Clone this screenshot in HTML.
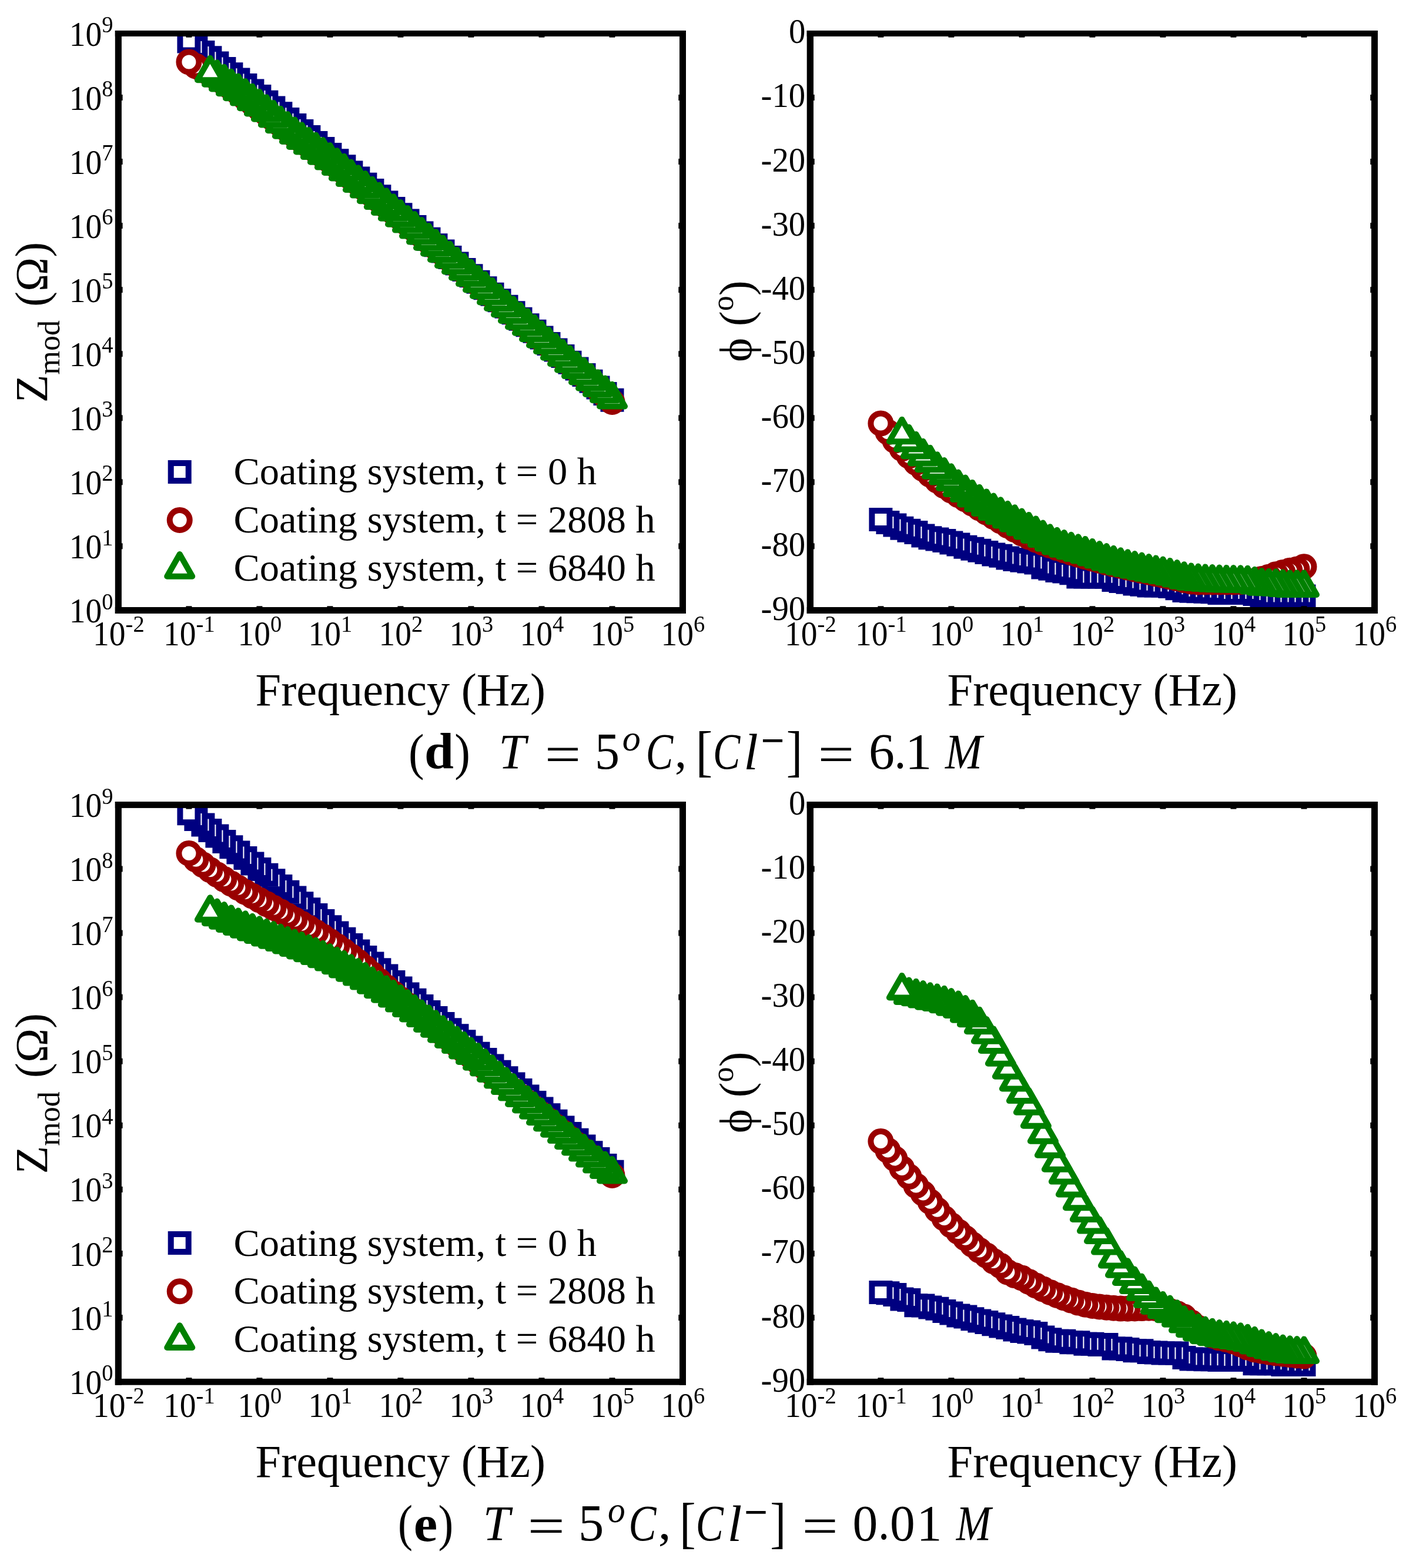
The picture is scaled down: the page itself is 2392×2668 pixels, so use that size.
<!DOCTYPE html>
<html><head><meta charset="utf-8"><title>EIS Bode plots</title><style>html,body{margin:0;padding:0;background:#fff;}svg{display:block;}</style></head><body>
<svg xmlns="http://www.w3.org/2000/svg" width="2392" height="2668" viewBox="0 0 2392 2668" font-family="'Liberation Serif','Times New Roman',serif" fill="#000">
<rect width="100%" height="100%" fill="#fff"/>
<defs>
<clipPath id="cZd"><rect x="201.4" y="57.0" width="960.1" height="981.4"/></clipPath>
<clipPath id="cPd"><rect x="1378.4" y="57.0" width="960.1" height="981.4"/></clipPath>
<clipPath id="cZe"><rect x="201.4" y="1369.4" width="960.1" height="981.8"/></clipPath>
<clipPath id="cPe"><rect x="1378.4" y="1369.4" width="960.1" height="981.8"/></clipPath>
</defs>
<g clip-path="url(#cZd)">
<g fill="#fff" stroke="#000080" stroke-width="10" stroke-linejoin="miter"><path d="M1026.5 665.7h30v30h-30z"/><path d="M1014.5 655.0h30v30h-30z"/><path d="M1002.5 644.4h30v30h-30z"/><path d="M990.5 633.7h30v30h-30z"/><path d="M978.5 623.0h30v30h-30z"/><path d="M966.5 612.4h30v30h-30z"/><path d="M954.5 601.7h30v30h-30z"/><path d="M942.5 591.1h30v30h-30z"/><path d="M930.5 580.5h30v30h-30z"/><path d="M918.5 569.9h30v30h-30z"/><path d="M906.5 559.4h30v30h-30z"/><path d="M894.5 548.8h30v30h-30z"/><path d="M882.5 538.3h30v30h-30z"/><path d="M870.5 527.7h30v30h-30z"/><path d="M858.5 517.2h30v30h-30z"/><path d="M846.5 506.7h30v30h-30z"/><path d="M834.5 496.2h30v30h-30z"/><path d="M822.5 485.7h30v30h-30z"/><path d="M810.5 475.2h30v30h-30z"/><path d="M798.5 464.8h30v30h-30z"/><path d="M786.5 454.3h30v30h-30z"/><path d="M774.5 443.9h30v30h-30z"/><path d="M762.5 433.4h30v30h-30z"/><path d="M750.5 423.0h30v30h-30z"/><path d="M738.5 412.6h30v30h-30z"/><path d="M726.5 402.2h30v30h-30z"/><path d="M714.5 391.8h30v30h-30z"/><path d="M702.5 381.4h30v30h-30z"/><path d="M690.5 371.0h30v30h-30z"/><path d="M678.5 360.6h30v30h-30z"/><path d="M666.5 350.3h30v30h-30z"/><path d="M654.4 339.9h30v30h-30z"/><path d="M642.4 329.6h30v30h-30z"/><path d="M630.4 319.3h30v30h-30z"/><path d="M618.4 309.1h30v30h-30z"/><path d="M606.4 298.8h30v30h-30z"/><path d="M594.4 288.6h30v30h-30z"/><path d="M582.4 278.5h30v30h-30z"/><path d="M570.4 268.3h30v30h-30z"/><path d="M558.4 258.2h30v30h-30z"/><path d="M546.4 248.1h30v30h-30z"/><path d="M534.4 238.0h30v30h-30z"/><path d="M522.4 228.0h30v30h-30z"/><path d="M510.4 218.0h30v30h-30z"/><path d="M498.4 208.0h30v30h-30z"/><path d="M486.4 198.0h30v30h-30z"/><path d="M474.4 188.1h30v30h-30z"/><path d="M462.4 178.3h30v30h-30z"/><path d="M450.4 168.5h30v30h-30z"/><path d="M438.4 158.8h30v30h-30z"/><path d="M426.4 149.1h30v30h-30z"/><path d="M414.4 139.5h30v30h-30z"/><path d="M402.4 130.0h30v30h-30z"/><path d="M390.4 120.6h30v30h-30z"/><path d="M378.4 111.2h30v30h-30z"/><path d="M366.4 101.9h30v30h-30z"/><path d="M354.4 92.6h30v30h-30z"/><path d="M342.4 83.3h30v30h-30z"/><path d="M330.4 74.1h30v30h-30z"/><path d="M318.4 64.9h30v30h-30z"/><path d="M306.4 55.4h30v30h-30z"/></g>
<g fill="#fff" stroke="#990000" stroke-width="10" stroke-linejoin="round"><path d="M1024.5 684.0a17 17 0 1 0 34 0a17 17 0 1 0 -34 0z"/><path d="M1012.5 672.9a17 17 0 1 0 34 0a17 17 0 1 0 -34 0z"/><path d="M1000.5 661.9a17 17 0 1 0 34 0a17 17 0 1 0 -34 0z"/><path d="M988.5 651.0a17 17 0 1 0 34 0a17 17 0 1 0 -34 0z"/><path d="M976.5 640.2a17 17 0 1 0 34 0a17 17 0 1 0 -34 0z"/><path d="M964.5 629.5a17 17 0 1 0 34 0a17 17 0 1 0 -34 0z"/><path d="M952.5 618.9a17 17 0 1 0 34 0a17 17 0 1 0 -34 0z"/><path d="M940.5 608.4a17 17 0 1 0 34 0a17 17 0 1 0 -34 0z"/><path d="M928.5 598.0a17 17 0 1 0 34 0a17 17 0 1 0 -34 0z"/><path d="M916.5 587.6a17 17 0 1 0 34 0a17 17 0 1 0 -34 0z"/><path d="M904.5 577.1a17 17 0 1 0 34 0a17 17 0 1 0 -34 0z"/><path d="M892.5 566.7a17 17 0 1 0 34 0a17 17 0 1 0 -34 0z"/><path d="M880.5 556.2a17 17 0 1 0 34 0a17 17 0 1 0 -34 0z"/><path d="M868.5 545.7a17 17 0 1 0 34 0a17 17 0 1 0 -34 0z"/><path d="M856.5 535.3a17 17 0 1 0 34 0a17 17 0 1 0 -34 0z"/><path d="M844.5 524.8a17 17 0 1 0 34 0a17 17 0 1 0 -34 0z"/><path d="M832.5 514.3a17 17 0 1 0 34 0a17 17 0 1 0 -34 0z"/><path d="M820.5 503.8a17 17 0 1 0 34 0a17 17 0 1 0 -34 0z"/><path d="M808.5 493.3a17 17 0 1 0 34 0a17 17 0 1 0 -34 0z"/><path d="M796.5 482.9a17 17 0 1 0 34 0a17 17 0 1 0 -34 0z"/><path d="M784.5 472.5a17 17 0 1 0 34 0a17 17 0 1 0 -34 0z"/><path d="M772.5 462.1a17 17 0 1 0 34 0a17 17 0 1 0 -34 0z"/><path d="M760.5 451.8a17 17 0 1 0 34 0a17 17 0 1 0 -34 0z"/><path d="M748.5 441.6a17 17 0 1 0 34 0a17 17 0 1 0 -34 0z"/><path d="M736.5 431.4a17 17 0 1 0 34 0a17 17 0 1 0 -34 0z"/><path d="M724.5 421.2a17 17 0 1 0 34 0a17 17 0 1 0 -34 0z"/><path d="M712.5 411.1a17 17 0 1 0 34 0a17 17 0 1 0 -34 0z"/><path d="M700.5 401.0a17 17 0 1 0 34 0a17 17 0 1 0 -34 0z"/><path d="M688.5 391.0a17 17 0 1 0 34 0a17 17 0 1 0 -34 0z"/><path d="M676.5 381.0a17 17 0 1 0 34 0a17 17 0 1 0 -34 0z"/><path d="M664.5 371.0a17 17 0 1 0 34 0a17 17 0 1 0 -34 0z"/><path d="M652.4 361.1a17 17 0 1 0 34 0a17 17 0 1 0 -34 0z"/><path d="M640.4 351.3a17 17 0 1 0 34 0a17 17 0 1 0 -34 0z"/><path d="M628.4 341.5a17 17 0 1 0 34 0a17 17 0 1 0 -34 0z"/><path d="M616.4 331.7a17 17 0 1 0 34 0a17 17 0 1 0 -34 0z"/><path d="M604.4 322.0a17 17 0 1 0 34 0a17 17 0 1 0 -34 0z"/><path d="M592.4 312.2a17 17 0 1 0 34 0a17 17 0 1 0 -34 0z"/><path d="M580.4 302.5a17 17 0 1 0 34 0a17 17 0 1 0 -34 0z"/><path d="M568.4 292.8a17 17 0 1 0 34 0a17 17 0 1 0 -34 0z"/><path d="M556.4 283.3a17 17 0 1 0 34 0a17 17 0 1 0 -34 0z"/><path d="M544.4 274.0a17 17 0 1 0 34 0a17 17 0 1 0 -34 0z"/><path d="M532.4 265.0a17 17 0 1 0 34 0a17 17 0 1 0 -34 0z"/><path d="M520.4 256.4a17 17 0 1 0 34 0a17 17 0 1 0 -34 0z"/><path d="M508.4 247.8a17 17 0 1 0 34 0a17 17 0 1 0 -34 0z"/><path d="M496.4 239.2a17 17 0 1 0 34 0a17 17 0 1 0 -34 0z"/><path d="M484.4 230.4a17 17 0 1 0 34 0a17 17 0 1 0 -34 0z"/><path d="M472.4 221.3a17 17 0 1 0 34 0a17 17 0 1 0 -34 0z"/><path d="M460.4 212.0a17 17 0 1 0 34 0a17 17 0 1 0 -34 0z"/><path d="M448.4 202.7a17 17 0 1 0 34 0a17 17 0 1 0 -34 0z"/><path d="M436.4 193.5a17 17 0 1 0 34 0a17 17 0 1 0 -34 0z"/><path d="M424.4 184.6a17 17 0 1 0 34 0a17 17 0 1 0 -34 0z"/><path d="M412.4 175.7a17 17 0 1 0 34 0a17 17 0 1 0 -34 0z"/><path d="M400.4 166.9a17 17 0 1 0 34 0a17 17 0 1 0 -34 0z"/><path d="M388.4 158.0a17 17 0 1 0 34 0a17 17 0 1 0 -34 0z"/><path d="M376.4 149.4a17 17 0 1 0 34 0a17 17 0 1 0 -34 0z"/><path d="M364.4 141.1a17 17 0 1 0 34 0a17 17 0 1 0 -34 0z"/><path d="M352.4 133.1a17 17 0 1 0 34 0a17 17 0 1 0 -34 0z"/><path d="M340.4 125.7a17 17 0 1 0 34 0a17 17 0 1 0 -34 0z"/><path d="M328.4 119.2a17 17 0 1 0 34 0a17 17 0 1 0 -34 0z"/><path d="M316.4 112.6a17 17 0 1 0 34 0a17 17 0 1 0 -34 0z"/><path d="M304.4 105.4a17 17 0 1 0 34 0a17 17 0 1 0 -34 0z"/></g>
<g fill="#fff" stroke="#008000" stroke-width="10" stroke-linejoin="round"><path d="M1041.5 653.8L1063.0 691.4L1020.0 691.4z"/><path d="M1029.5 643.6L1051.0 681.2L1008.0 681.2z"/><path d="M1017.5 633.4L1039.0 671.0L996.0 671.0z"/><path d="M1005.5 623.1L1027.0 660.7L984.0 660.7z"/><path d="M993.5 612.8L1015.0 650.4L972.0 650.4z"/><path d="M981.5 602.5L1003.0 640.1L960.0 640.1z"/><path d="M969.5 592.1L991.0 629.7L948.0 629.7z"/><path d="M957.5 581.7L979.0 619.3L936.0 619.3z"/><path d="M945.5 571.2L967.0 608.8L924.0 608.8z"/><path d="M933.5 560.7L955.0 598.3L912.0 598.3z"/><path d="M921.5 550.2L943.0 587.8L900.0 587.8z"/><path d="M909.5 539.7L931.0 577.3L888.0 577.3z"/><path d="M897.5 529.2L919.0 566.8L876.0 566.8z"/><path d="M885.5 518.8L907.0 556.4L864.0 556.4z"/><path d="M873.5 508.3L895.0 545.9L852.0 545.9z"/><path d="M861.5 497.8L883.0 535.4L840.0 535.4z"/><path d="M849.5 487.3L871.0 524.9L828.0 524.9z"/><path d="M837.5 476.8L859.0 514.4L816.0 514.4z"/><path d="M825.5 466.3L847.0 503.9L804.0 503.9z"/><path d="M813.5 455.9L835.0 493.5L792.0 493.5z"/><path d="M801.5 445.5L823.0 483.1L780.0 483.1z"/><path d="M789.5 435.2L811.0 472.8L768.0 472.8z"/><path d="M777.5 424.9L799.0 462.5L756.0 462.5z"/><path d="M765.5 414.6L787.0 452.2L744.0 452.2z"/><path d="M753.5 404.4L775.0 442.0L732.0 442.0z"/><path d="M741.5 394.2L763.0 431.8L720.0 431.8z"/><path d="M729.5 384.1L751.0 421.7L708.0 421.7z"/><path d="M717.5 374.0L739.0 411.6L696.0 411.6z"/><path d="M705.5 364.0L727.0 401.6L684.0 401.6z"/><path d="M693.5 354.0L715.0 391.6L672.0 391.6z"/><path d="M681.5 344.1L703.0 381.7L660.0 381.7z"/><path d="M669.4 334.2L690.9 371.8L647.9 371.8z"/><path d="M657.4 324.3L678.9 361.9L635.9 361.9z"/><path d="M645.4 314.5L666.9 352.1L623.9 352.1z"/><path d="M633.4 304.7L654.9 342.3L611.9 342.3z"/><path d="M621.4 295.0L642.9 332.6L599.9 332.6z"/><path d="M609.4 285.3L630.9 322.9L587.9 322.9z"/><path d="M597.4 275.5L618.9 313.1L575.9 313.1z"/><path d="M585.4 265.8L606.9 303.4L563.9 303.4z"/><path d="M573.4 256.3L594.9 293.9L551.9 293.9z"/><path d="M561.4 247.0L582.9 284.6L539.9 284.6z"/><path d="M549.4 238.1L570.9 275.7L527.9 275.7z"/><path d="M537.4 229.5L558.9 267.1L515.9 267.1z"/><path d="M525.4 220.9L546.9 258.5L503.9 258.5z"/><path d="M513.4 212.3L534.9 249.9L491.9 249.9z"/><path d="M501.4 203.4L522.9 241.0L479.9 241.0z"/><path d="M489.4 194.1L510.9 231.7L467.9 231.7z"/><path d="M477.4 184.7L498.9 222.3L455.9 222.3z"/><path d="M465.4 174.9L486.9 212.5L443.9 212.5z"/><path d="M453.4 165.2L474.9 202.8L431.9 202.8z"/><path d="M441.4 155.8L462.9 193.4L419.9 193.4z"/><path d="M429.4 146.7L450.9 184.3L407.9 184.3z"/><path d="M417.4 138.0L438.9 175.6L395.9 175.6z"/><path d="M405.4 129.6L426.9 167.2L383.9 167.2z"/><path d="M393.4 121.6L414.9 159.2L371.9 159.2z"/><path d="M381.4 113.8L402.9 151.4L359.9 151.4z"/><path d="M369.4 106.2L390.9 143.8L347.9 143.8z"/><path d="M357.4 98.7L378.9 136.3L335.9 136.3z"/></g>
</g>
<rect x="316.41" y="61.00" width="10.00" height="2.70"/><rect x="316.41" y="1031.30" width="10.00" height="2.70"/><rect x="436.43" y="61.00" width="10.00" height="2.70"/><rect x="436.43" y="1031.30" width="10.00" height="2.70"/><rect x="556.44" y="61.00" width="10.00" height="2.70"/><rect x="556.44" y="1031.30" width="10.00" height="2.70"/><rect x="676.45" y="61.00" width="10.00" height="2.70"/><rect x="676.45" y="1031.30" width="10.00" height="2.70"/><rect x="796.46" y="61.00" width="10.00" height="2.70"/><rect x="796.46" y="1031.30" width="10.00" height="2.70"/><rect x="916.48" y="61.00" width="10.00" height="2.70"/><rect x="916.48" y="1031.30" width="10.00" height="2.70"/><rect x="1036.49" y="61.00" width="10.00" height="2.70"/><rect x="1036.49" y="1031.30" width="10.00" height="2.70"/><rect x="205.90" y="924.36" width="2.70" height="10.00"/><rect x="1154.30" y="924.36" width="2.70" height="10.00"/><rect x="205.90" y="815.31" width="2.70" height="10.00"/><rect x="1154.30" y="815.31" width="2.70" height="10.00"/><rect x="205.90" y="706.27" width="2.70" height="10.00"/><rect x="1154.30" y="706.27" width="2.70" height="10.00"/><rect x="205.90" y="597.22" width="2.70" height="10.00"/><rect x="1154.30" y="597.22" width="2.70" height="10.00"/><rect x="205.90" y="488.18" width="2.70" height="10.00"/><rect x="1154.30" y="488.18" width="2.70" height="10.00"/><rect x="205.90" y="379.13" width="2.70" height="10.00"/><rect x="1154.30" y="379.13" width="2.70" height="10.00"/><rect x="205.90" y="270.09" width="2.70" height="10.00"/><rect x="1154.30" y="270.09" width="2.70" height="10.00"/><rect x="205.90" y="161.04" width="2.70" height="10.00"/><rect x="1154.30" y="161.04" width="2.70" height="10.00"/><rect x="195.80" y="52.00" width="971.20" height="10.00"/><rect x="195.80" y="1033.00" width="971.20" height="11.00"/><rect x="195.80" y="52.00" width="11.10" height="992.00"/><rect x="1156.00" y="52.00" width="11.00" height="992.00"/>
<text transform="translate(0 1097.8) scale(1 1.05)" font-size="55.5"><tspan x="158.1" y="0">10</tspan><tspan x="213.6" y="-21.3" font-size="38.5">-2</tspan></text><text transform="translate(0 1097.8) scale(1 1.05)" font-size="55.5"><tspan x="278.1" y="0">10</tspan><tspan x="333.6" y="-21.3" font-size="38.5">-1</tspan></text><text transform="translate(0 1097.8) scale(1 1.05)" font-size="55.5"><tspan x="404.6" y="0">10</tspan><tspan x="460.1" y="-21.3" font-size="38.5">0</tspan></text><text transform="translate(0 1097.8) scale(1 1.05)" font-size="55.5"><tspan x="524.6" y="0">10</tspan><tspan x="580.1" y="-21.3" font-size="38.5">1</tspan></text><text transform="translate(0 1097.8) scale(1 1.05)" font-size="55.5"><tspan x="644.6" y="0">10</tspan><tspan x="700.1" y="-21.3" font-size="38.5">2</tspan></text><text transform="translate(0 1097.8) scale(1 1.05)" font-size="55.5"><tspan x="764.6" y="0">10</tspan><tspan x="820.1" y="-21.3" font-size="38.5">3</tspan></text><text transform="translate(0 1097.8) scale(1 1.05)" font-size="55.5"><tspan x="884.6" y="0">10</tspan><tspan x="940.1" y="-21.3" font-size="38.5">4</tspan></text><text transform="translate(0 1097.8) scale(1 1.05)" font-size="55.5"><tspan x="1004.6" y="0">10</tspan><tspan x="1060.1" y="-21.3" font-size="38.5">5</tspan></text><text transform="translate(0 1097.8) scale(1 1.05)" font-size="55.5"><tspan x="1124.6" y="0">10</tspan><tspan x="1180.1" y="-21.3" font-size="38.5">6</tspan></text><text transform="translate(0 1058.9) scale(1 1.05)" font-size="55.5"><tspan x="117.7" y="0">10</tspan><tspan x="173.2" y="-21.3" font-size="38.5">0</tspan></text><text transform="translate(0 949.9) scale(1 1.05)" font-size="55.5"><tspan x="117.7" y="0">10</tspan><tspan x="173.2" y="-21.3" font-size="38.5">1</tspan></text><text transform="translate(0 840.8) scale(1 1.05)" font-size="55.5"><tspan x="117.7" y="0">10</tspan><tspan x="173.2" y="-21.3" font-size="38.5">2</tspan></text><text transform="translate(0 731.8) scale(1 1.05)" font-size="55.5"><tspan x="117.7" y="0">10</tspan><tspan x="173.2" y="-21.3" font-size="38.5">3</tspan></text><text transform="translate(0 622.7) scale(1 1.05)" font-size="55.5"><tspan x="117.7" y="0">10</tspan><tspan x="173.2" y="-21.3" font-size="38.5">4</tspan></text><text transform="translate(0 513.7) scale(1 1.05)" font-size="55.5"><tspan x="117.7" y="0">10</tspan><tspan x="173.2" y="-21.3" font-size="38.5">5</tspan></text><text transform="translate(0 404.6) scale(1 1.05)" font-size="55.5"><tspan x="117.7" y="0">10</tspan><tspan x="173.2" y="-21.3" font-size="38.5">6</tspan></text><text transform="translate(0 295.6) scale(1 1.05)" font-size="55.5"><tspan x="117.7" y="0">10</tspan><tspan x="173.2" y="-21.3" font-size="38.5">7</tspan></text><text transform="translate(0 186.5) scale(1 1.05)" font-size="55.5"><tspan x="117.7" y="0">10</tspan><tspan x="173.2" y="-21.3" font-size="38.5">8</tspan></text><text transform="translate(0 77.5) scale(1 1.05)" font-size="55.5"><tspan x="117.7" y="0">10</tspan><tspan x="173.2" y="-21.3" font-size="38.5">9</tspan></text>
<g clip-path="url(#cPd)">
<g fill="#fff" stroke="#000080" stroke-width="10" stroke-linejoin="miter"><path d="M2203.5 999.4h30v30h-30z"/><path d="M2191.5 999.4h30v30h-30z"/><path d="M2179.5 999.4h30v30h-30z"/><path d="M2167.5 999.4h30v30h-30z"/><path d="M2155.5 999.4h30v30h-30z"/><path d="M2143.5 999.4h30v30h-30z"/><path d="M2131.5 999.4h30v30h-30z"/><path d="M2119.5 996.1h30v30h-30z"/><path d="M2107.5 994.0h30v30h-30z"/><path d="M2095.5 994.0h30v30h-30z"/><path d="M2083.5 994.0h30v30h-30z"/><path d="M2071.5 994.0h30v30h-30z"/><path d="M2059.5 994.0h30v30h-30z"/><path d="M2047.5 992.3h30v30h-30z"/><path d="M2035.5 991.8h30v30h-30z"/><path d="M2023.5 991.2h30v30h-30z"/><path d="M2011.5 990.7h30v30h-30z"/><path d="M1999.5 989.9h30v30h-30z"/><path d="M1987.5 986.3h30v30h-30z"/><path d="M1975.5 983.1h30v30h-30z"/><path d="M1963.5 981.6h30v30h-30z"/><path d="M1951.5 981.6h30v30h-30z"/><path d="M1939.5 981.6h30v30h-30z"/><path d="M1927.5 979.8h30v30h-30z"/><path d="M1915.5 978.4h30v30h-30z"/><path d="M1903.5 975.7h30v30h-30z"/><path d="M1891.5 974.1h30v30h-30z"/><path d="M1879.5 972.1h30v30h-30z"/><path d="M1867.5 966.7h30v30h-30z"/><path d="M1855.5 966.5h30v30h-30z"/><path d="M1843.5 966.5h30v30h-30z"/><path d="M1831.4 966.5h30v30h-30z"/><path d="M1819.4 966.5h30v30h-30z"/><path d="M1807.4 960.2h30v30h-30z"/><path d="M1795.4 957.4h30v30h-30z"/><path d="M1783.4 956.1h30v30h-30z"/><path d="M1771.4 952.7h30v30h-30z"/><path d="M1759.4 950.6h30v30h-30z"/><path d="M1747.4 942.4h30v30h-30z"/><path d="M1735.4 940.6h30v30h-30z"/><path d="M1723.4 938.7h30v30h-30z"/><path d="M1711.4 936.9h30v30h-30z"/><path d="M1699.4 934.4h30v30h-30z"/><path d="M1687.4 930.8h30v30h-30z"/><path d="M1675.4 928.4h30v30h-30z"/><path d="M1663.4 925.0h30v30h-30z"/><path d="M1651.4 921.8h30v30h-30z"/><path d="M1639.4 918.7h30v30h-30z"/><path d="M1627.4 915.7h30v30h-30z"/><path d="M1615.4 911.6h30v30h-30z"/><path d="M1603.4 908.6h30v30h-30z"/><path d="M1591.4 905.0h30v30h-30z"/><path d="M1579.4 902.6h30v30h-30z"/><path d="M1567.4 900.2h30v30h-30z"/><path d="M1555.4 896.4h30v30h-30z"/><path d="M1543.4 890.9h30v30h-30z"/><path d="M1531.4 887.7h30v30h-30z"/><path d="M1519.4 883.7h30v30h-30z"/><path d="M1507.4 878.6h30v30h-30z"/><path d="M1495.4 874.0h30v30h-30z"/><path d="M1483.4 868.9h30v30h-30z"/></g>
<g fill="#fff" stroke="#990000" stroke-width="10" stroke-linejoin="round"><path d="M2201.5 964.2a17 17 0 1 0 34 0a17 17 0 1 0 -34 0z"/><path d="M2189.5 968.6a17 17 0 1 0 34 0a17 17 0 1 0 -34 0z"/><path d="M2177.5 970.8a17 17 0 1 0 34 0a17 17 0 1 0 -34 0z"/><path d="M2165.5 974.1a17 17 0 1 0 34 0a17 17 0 1 0 -34 0z"/><path d="M2153.5 977.3a17 17 0 1 0 34 0a17 17 0 1 0 -34 0z"/><path d="M2141.5 981.7a17 17 0 1 0 34 0a17 17 0 1 0 -34 0z"/><path d="M2129.5 985.0a17 17 0 1 0 34 0a17 17 0 1 0 -34 0z"/><path d="M2117.5 988.2a17 17 0 1 0 34 0a17 17 0 1 0 -34 0z"/><path d="M2105.5 989.4a17 17 0 1 0 34 0a17 17 0 1 0 -34 0z"/><path d="M2093.5 990.2a17 17 0 1 0 34 0a17 17 0 1 0 -34 0z"/><path d="M2081.5 990.4a17 17 0 1 0 34 0a17 17 0 1 0 -34 0z"/><path d="M2069.5 990.4a17 17 0 1 0 34 0a17 17 0 1 0 -34 0z"/><path d="M2057.5 990.4a17 17 0 1 0 34 0a17 17 0 1 0 -34 0z"/><path d="M2045.5 990.4a17 17 0 1 0 34 0a17 17 0 1 0 -34 0z"/><path d="M2033.5 990.4a17 17 0 1 0 34 0a17 17 0 1 0 -34 0z"/><path d="M2021.5 990.4a17 17 0 1 0 34 0a17 17 0 1 0 -34 0z"/><path d="M2009.5 989.5a17 17 0 1 0 34 0a17 17 0 1 0 -34 0z"/><path d="M1997.5 987.3a17 17 0 1 0 34 0a17 17 0 1 0 -34 0z"/><path d="M1985.5 984.3a17 17 0 1 0 34 0a17 17 0 1 0 -34 0z"/><path d="M1973.5 981.4a17 17 0 1 0 34 0a17 17 0 1 0 -34 0z"/><path d="M1961.5 978.9a17 17 0 1 0 34 0a17 17 0 1 0 -34 0z"/><path d="M1949.5 976.4a17 17 0 1 0 34 0a17 17 0 1 0 -34 0z"/><path d="M1937.5 973.8a17 17 0 1 0 34 0a17 17 0 1 0 -34 0z"/><path d="M1925.5 971.2a17 17 0 1 0 34 0a17 17 0 1 0 -34 0z"/><path d="M1913.5 968.6a17 17 0 1 0 34 0a17 17 0 1 0 -34 0z"/><path d="M1901.5 965.8a17 17 0 1 0 34 0a17 17 0 1 0 -34 0z"/><path d="M1889.5 963.0a17 17 0 1 0 34 0a17 17 0 1 0 -34 0z"/><path d="M1877.5 960.1a17 17 0 1 0 34 0a17 17 0 1 0 -34 0z"/><path d="M1865.5 957.1a17 17 0 1 0 34 0a17 17 0 1 0 -34 0z"/><path d="M1853.5 954.0a17 17 0 1 0 34 0a17 17 0 1 0 -34 0z"/><path d="M1841.5 950.7a17 17 0 1 0 34 0a17 17 0 1 0 -34 0z"/><path d="M1829.4 947.4a17 17 0 1 0 34 0a17 17 0 1 0 -34 0z"/><path d="M1817.4 943.9a17 17 0 1 0 34 0a17 17 0 1 0 -34 0z"/><path d="M1805.4 940.2a17 17 0 1 0 34 0a17 17 0 1 0 -34 0z"/><path d="M1793.4 936.4a17 17 0 1 0 34 0a17 17 0 1 0 -34 0z"/><path d="M1781.4 932.4a17 17 0 1 0 34 0a17 17 0 1 0 -34 0z"/><path d="M1769.4 928.1a17 17 0 1 0 34 0a17 17 0 1 0 -34 0z"/><path d="M1757.4 923.6a17 17 0 1 0 34 0a17 17 0 1 0 -34 0z"/><path d="M1745.4 918.8a17 17 0 1 0 34 0a17 17 0 1 0 -34 0z"/><path d="M1733.4 913.6a17 17 0 1 0 34 0a17 17 0 1 0 -34 0z"/><path d="M1721.4 907.7a17 17 0 1 0 34 0a17 17 0 1 0 -34 0z"/><path d="M1709.4 901.1a17 17 0 1 0 34 0a17 17 0 1 0 -34 0z"/><path d="M1697.4 894.1a17 17 0 1 0 34 0a17 17 0 1 0 -34 0z"/><path d="M1685.4 886.7a17 17 0 1 0 34 0a17 17 0 1 0 -34 0z"/><path d="M1673.4 879.3a17 17 0 1 0 34 0a17 17 0 1 0 -34 0z"/><path d="M1661.4 871.9a17 17 0 1 0 34 0a17 17 0 1 0 -34 0z"/><path d="M1649.4 864.6a17 17 0 1 0 34 0a17 17 0 1 0 -34 0z"/><path d="M1637.4 857.0a17 17 0 1 0 34 0a17 17 0 1 0 -34 0z"/><path d="M1625.4 849.4a17 17 0 1 0 34 0a17 17 0 1 0 -34 0z"/><path d="M1613.4 842.1a17 17 0 1 0 34 0a17 17 0 1 0 -34 0z"/><path d="M1601.4 834.7a17 17 0 1 0 34 0a17 17 0 1 0 -34 0z"/><path d="M1589.4 826.7a17 17 0 1 0 34 0a17 17 0 1 0 -34 0z"/><path d="M1577.4 817.6a17 17 0 1 0 34 0a17 17 0 1 0 -34 0z"/><path d="M1565.4 807.8a17 17 0 1 0 34 0a17 17 0 1 0 -34 0z"/><path d="M1553.4 797.7a17 17 0 1 0 34 0a17 17 0 1 0 -34 0z"/><path d="M1541.4 787.2a17 17 0 1 0 34 0a17 17 0 1 0 -34 0z"/><path d="M1529.4 775.9a17 17 0 1 0 34 0a17 17 0 1 0 -34 0z"/><path d="M1517.4 763.4a17 17 0 1 0 34 0a17 17 0 1 0 -34 0z"/><path d="M1505.4 749.6a17 17 0 1 0 34 0a17 17 0 1 0 -34 0z"/><path d="M1493.4 735.3a17 17 0 1 0 34 0a17 17 0 1 0 -34 0z"/><path d="M1481.4 720.4a17 17 0 1 0 34 0a17 17 0 1 0 -34 0z"/></g>
<g fill="#fff" stroke="#008000" stroke-width="10" stroke-linejoin="round"><path d="M2218.5 974.4L2240.0 1012.0L2197.0 1012.0z"/><path d="M2206.5 974.4L2228.0 1012.0L2185.0 1012.0z"/><path d="M2194.5 974.4L2216.0 1012.0L2173.0 1012.0z"/><path d="M2182.5 973.4L2204.0 1011.0L2161.0 1011.0z"/><path d="M2170.5 972.2L2192.0 1009.8L2149.0 1009.8z"/><path d="M2158.5 971.7L2180.0 1009.3L2137.0 1009.3z"/><path d="M2146.5 971.1L2168.0 1008.7L2125.0 1008.7z"/><path d="M2134.5 968.8L2156.0 1006.4L2113.0 1006.4z"/><path d="M2122.5 966.7L2144.0 1004.3L2101.0 1004.3z"/><path d="M2110.5 966.3L2132.0 1003.9L2089.0 1003.9z"/><path d="M2098.5 966.1L2120.0 1003.7L2077.0 1003.7z"/><path d="M2086.5 965.9L2108.0 1003.5L2065.0 1003.5z"/><path d="M2074.5 965.6L2096.0 1003.2L2053.0 1003.2z"/><path d="M2062.5 965.1L2084.0 1002.7L2041.0 1002.7z"/><path d="M2050.5 964.4L2072.0 1002.0L2029.0 1002.0z"/><path d="M2038.5 963.5L2060.0 1001.1L2017.0 1001.1z"/><path d="M2026.5 962.4L2048.0 1000.0L2005.0 1000.0z"/><path d="M2014.5 960.2L2036.0 997.8L1993.0 997.8z"/><path d="M2002.5 957.0L2024.0 994.6L1981.0 994.6z"/><path d="M1990.5 953.9L2012.0 991.5L1969.0 991.5z"/><path d="M1978.5 951.5L2000.0 989.1L1957.0 989.1z"/><path d="M1966.5 949.4L1988.0 987.0L1945.0 987.0z"/><path d="M1954.5 947.1L1976.0 984.7L1933.0 984.7z"/><path d="M1942.5 944.6L1964.0 982.2L1921.0 982.2z"/><path d="M1930.5 942.0L1952.0 979.6L1909.0 979.6z"/><path d="M1918.5 939.2L1940.0 976.8L1897.0 976.8z"/><path d="M1906.5 936.2L1928.0 973.8L1885.0 973.8z"/><path d="M1894.5 932.8L1916.0 970.4L1873.0 970.4z"/><path d="M1882.5 929.0L1904.0 966.6L1861.0 966.6z"/><path d="M1870.5 925.0L1892.0 962.6L1849.0 962.6z"/><path d="M1858.5 920.9L1880.0 958.5L1837.0 958.5z"/><path d="M1846.4 916.9L1867.9 954.5L1824.9 954.5z"/><path d="M1834.4 913.3L1855.9 950.9L1812.9 950.9z"/><path d="M1822.4 909.8L1843.9 947.4L1800.9 947.4z"/><path d="M1810.4 906.1L1831.9 943.7L1788.9 943.7z"/><path d="M1798.4 901.8L1819.9 939.4L1776.9 939.4z"/><path d="M1786.4 896.2L1807.9 933.8L1764.9 933.8z"/><path d="M1774.4 889.5L1795.9 927.1L1752.9 927.1z"/><path d="M1762.4 882.4L1783.9 920.0L1740.9 920.0z"/><path d="M1750.4 875.9L1771.9 913.5L1728.9 913.5z"/><path d="M1738.4 869.6L1759.9 907.2L1716.9 907.2z"/><path d="M1726.4 863.2L1747.9 900.8L1704.9 900.8z"/><path d="M1714.4 856.8L1735.9 894.4L1692.9 894.4z"/><path d="M1702.4 850.3L1723.9 887.9L1680.9 887.9z"/><path d="M1690.4 843.6L1711.9 881.2L1668.9 881.2z"/><path d="M1678.4 836.4L1699.9 874.0L1656.9 874.0z"/><path d="M1666.4 828.8L1687.9 866.4L1644.9 866.4z"/><path d="M1654.4 820.9L1675.9 858.5L1632.9 858.5z"/><path d="M1642.4 812.5L1663.9 850.1L1620.9 850.1z"/><path d="M1630.4 803.5L1651.9 841.1L1608.9 841.1z"/><path d="M1618.4 793.3L1639.9 830.9L1596.9 830.9z"/><path d="M1606.4 783.0L1627.9 820.6L1584.9 820.6z"/><path d="M1594.4 773.2L1615.9 810.8L1572.9 810.8z"/><path d="M1582.4 761.7L1603.9 799.3L1560.9 799.3z"/><path d="M1570.4 750.8L1591.9 788.4L1548.9 788.4z"/><path d="M1558.4 738.8L1579.9 776.4L1536.9 776.4z"/><path d="M1546.4 726.8L1567.9 764.4L1524.9 764.4z"/><path d="M1534.4 713.7L1555.9 751.3L1512.9 751.3z"/></g>
</g>
<rect x="1493.41" y="61.00" width="10.00" height="2.70"/><rect x="1493.41" y="1031.30" width="10.00" height="2.70"/><rect x="1613.43" y="61.00" width="10.00" height="2.70"/><rect x="1613.43" y="1031.30" width="10.00" height="2.70"/><rect x="1733.44" y="61.00" width="10.00" height="2.70"/><rect x="1733.44" y="1031.30" width="10.00" height="2.70"/><rect x="1853.45" y="61.00" width="10.00" height="2.70"/><rect x="1853.45" y="1031.30" width="10.00" height="2.70"/><rect x="1973.46" y="61.00" width="10.00" height="2.70"/><rect x="1973.46" y="1031.30" width="10.00" height="2.70"/><rect x="2093.47" y="61.00" width="10.00" height="2.70"/><rect x="2093.47" y="1031.30" width="10.00" height="2.70"/><rect x="2213.49" y="61.00" width="10.00" height="2.70"/><rect x="2213.49" y="1031.30" width="10.00" height="2.70"/><rect x="1383.00" y="161.04" width="2.70" height="10.00"/><rect x="2331.30" y="161.04" width="2.70" height="10.00"/><rect x="1383.00" y="270.09" width="2.70" height="10.00"/><rect x="2331.30" y="270.09" width="2.70" height="10.00"/><rect x="1383.00" y="379.13" width="2.70" height="10.00"/><rect x="2331.30" y="379.13" width="2.70" height="10.00"/><rect x="1383.00" y="488.18" width="2.70" height="10.00"/><rect x="2331.30" y="488.18" width="2.70" height="10.00"/><rect x="1383.00" y="597.22" width="2.70" height="10.00"/><rect x="2331.30" y="597.22" width="2.70" height="10.00"/><rect x="1383.00" y="706.27" width="2.70" height="10.00"/><rect x="2331.30" y="706.27" width="2.70" height="10.00"/><rect x="1383.00" y="815.31" width="2.70" height="10.00"/><rect x="2331.30" y="815.31" width="2.70" height="10.00"/><rect x="1383.00" y="924.36" width="2.70" height="10.00"/><rect x="2331.30" y="924.36" width="2.70" height="10.00"/><rect x="1372.70" y="52.00" width="971.30" height="10.00"/><rect x="1372.70" y="1033.00" width="971.30" height="11.00"/><rect x="1372.70" y="52.00" width="11.30" height="992.00"/><rect x="2333.00" y="52.00" width="11.00" height="992.00"/>
<text transform="translate(0 1097.8) scale(1 1.05)" font-size="55.5"><tspan x="1335.1" y="0">10</tspan><tspan x="1390.6" y="-21.3" font-size="38.5">-2</tspan></text><text transform="translate(0 1097.8) scale(1 1.05)" font-size="55.5"><tspan x="1455.1" y="0">10</tspan><tspan x="1510.6" y="-21.3" font-size="38.5">-1</tspan></text><text transform="translate(0 1097.8) scale(1 1.05)" font-size="55.5"><tspan x="1581.6" y="0">10</tspan><tspan x="1637.1" y="-21.3" font-size="38.5">0</tspan></text><text transform="translate(0 1097.8) scale(1 1.05)" font-size="55.5"><tspan x="1701.6" y="0">10</tspan><tspan x="1757.1" y="-21.3" font-size="38.5">1</tspan></text><text transform="translate(0 1097.8) scale(1 1.05)" font-size="55.5"><tspan x="1821.6" y="0">10</tspan><tspan x="1877.1" y="-21.3" font-size="38.5">2</tspan></text><text transform="translate(0 1097.8) scale(1 1.05)" font-size="55.5"><tspan x="1941.6" y="0">10</tspan><tspan x="1997.1" y="-21.3" font-size="38.5">3</tspan></text><text transform="translate(0 1097.8) scale(1 1.05)" font-size="55.5"><tspan x="2061.6" y="0">10</tspan><tspan x="2117.1" y="-21.3" font-size="38.5">4</tspan></text><text transform="translate(0 1097.8) scale(1 1.05)" font-size="55.5"><tspan x="2181.6" y="0">10</tspan><tspan x="2237.1" y="-21.3" font-size="38.5">5</tspan></text><text transform="translate(0 1097.8) scale(1 1.05)" font-size="55.5"><tspan x="2301.6" y="0">10</tspan><tspan x="2357.1" y="-21.3" font-size="38.5">6</tspan></text><text transform="translate(1341.9 73.4) scale(1 1.024)" font-size="56.8">0</text><text transform="translate(1294.5 182.4) scale(1 1.024)" font-size="56.8">-10</text><text transform="translate(1294.5 291.5) scale(1 1.024)" font-size="56.8">-20</text><text transform="translate(1294.5 400.5) scale(1 1.024)" font-size="56.8">-30</text><text transform="translate(1294.5 509.6) scale(1 1.024)" font-size="56.8">-40</text><text transform="translate(1294.5 618.6) scale(1 1.024)" font-size="56.8">-50</text><text transform="translate(1294.5 727.7) scale(1 1.024)" font-size="56.8">-60</text><text transform="translate(1294.5 836.7) scale(1 1.024)" font-size="56.8">-70</text><text transform="translate(1294.5 945.8) scale(1 1.024)" font-size="56.8">-80</text><text transform="translate(1294.5 1054.8) scale(1 1.024)" font-size="56.8">-90</text>
<g clip-path="url(#cZe)">
<g fill="#fff" stroke="#000080" stroke-width="10" stroke-linejoin="miter"><path d="M1026.5 1978.7h30v30h-30z"/><path d="M1014.5 1967.9h30v30h-30z"/><path d="M1002.5 1957.0h30v30h-30z"/><path d="M990.5 1946.2h30v30h-30z"/><path d="M978.5 1935.5h30v30h-30z"/><path d="M966.5 1924.8h30v30h-30z"/><path d="M954.5 1914.1h30v30h-30z"/><path d="M942.5 1903.4h30v30h-30z"/><path d="M930.5 1892.8h30v30h-30z"/><path d="M918.5 1882.2h30v30h-30z"/><path d="M906.5 1871.6h30v30h-30z"/><path d="M894.5 1861.1h30v30h-30z"/><path d="M882.5 1850.5h30v30h-30z"/><path d="M870.5 1840.1h30v30h-30z"/><path d="M858.5 1829.6h30v30h-30z"/><path d="M846.5 1819.2h30v30h-30z"/><path d="M834.5 1808.8h30v30h-30z"/><path d="M822.5 1798.4h30v30h-30z"/><path d="M810.5 1788.0h30v30h-30z"/><path d="M798.5 1777.7h30v30h-30z"/><path d="M786.5 1767.5h30v30h-30z"/><path d="M774.5 1757.3h30v30h-30z"/><path d="M762.5 1747.2h30v30h-30z"/><path d="M750.5 1737.2h30v30h-30z"/><path d="M738.5 1727.1h30v30h-30z"/><path d="M726.5 1717.1h30v30h-30z"/><path d="M714.5 1707.0h30v30h-30z"/><path d="M702.5 1696.9h30v30h-30z"/><path d="M690.5 1686.8h30v30h-30z"/><path d="M678.5 1676.6h30v30h-30z"/><path d="M666.5 1666.4h30v30h-30z"/><path d="M654.4 1656.1h30v30h-30z"/><path d="M642.4 1645.6h30v30h-30z"/><path d="M630.4 1635.2h30v30h-30z"/><path d="M618.4 1624.6h30v30h-30z"/><path d="M606.4 1614.1h30v30h-30z"/><path d="M594.4 1603.6h30v30h-30z"/><path d="M582.4 1593.1h30v30h-30z"/><path d="M570.4 1582.7h30v30h-30z"/><path d="M558.4 1572.4h30v30h-30z"/><path d="M546.4 1562.2h30v30h-30z"/><path d="M534.4 1552.1h30v30h-30z"/><path d="M522.4 1542.1h30v30h-30z"/><path d="M510.4 1532.2h30v30h-30z"/><path d="M498.4 1522.3h30v30h-30z"/><path d="M486.4 1512.5h30v30h-30z"/><path d="M474.4 1502.7h30v30h-30z"/><path d="M462.4 1493.0h30v30h-30z"/><path d="M450.4 1483.3h30v30h-30z"/><path d="M438.4 1473.7h30v30h-30z"/><path d="M426.4 1464.0h30v30h-30z"/><path d="M414.4 1454.5h30v30h-30z"/><path d="M402.4 1445.0h30v30h-30z"/><path d="M390.4 1435.6h30v30h-30z"/><path d="M378.4 1426.2h30v30h-30z"/><path d="M366.4 1416.9h30v30h-30z"/><path d="M354.4 1407.5h30v30h-30z"/><path d="M342.4 1398.1h30v30h-30z"/><path d="M330.4 1388.5h30v30h-30z"/><path d="M318.4 1378.9h30v30h-30z"/><path d="M306.4 1369.2h30v30h-30z"/></g>
<g fill="#fff" stroke="#990000" stroke-width="10" stroke-linejoin="round"><path d="M1024.5 1999.9a17 17 0 1 0 34 0a17 17 0 1 0 -34 0z"/><path d="M1012.5 1989.4a17 17 0 1 0 34 0a17 17 0 1 0 -34 0z"/><path d="M1000.5 1978.8a17 17 0 1 0 34 0a17 17 0 1 0 -34 0z"/><path d="M988.5 1968.4a17 17 0 1 0 34 0a17 17 0 1 0 -34 0z"/><path d="M976.5 1957.9a17 17 0 1 0 34 0a17 17 0 1 0 -34 0z"/><path d="M964.5 1947.6a17 17 0 1 0 34 0a17 17 0 1 0 -34 0z"/><path d="M952.5 1937.2a17 17 0 1 0 34 0a17 17 0 1 0 -34 0z"/><path d="M940.5 1926.9a17 17 0 1 0 34 0a17 17 0 1 0 -34 0z"/><path d="M928.5 1916.7a17 17 0 1 0 34 0a17 17 0 1 0 -34 0z"/><path d="M916.5 1906.5a17 17 0 1 0 34 0a17 17 0 1 0 -34 0z"/><path d="M904.5 1896.3a17 17 0 1 0 34 0a17 17 0 1 0 -34 0z"/><path d="M892.5 1886.2a17 17 0 1 0 34 0a17 17 0 1 0 -34 0z"/><path d="M880.5 1876.1a17 17 0 1 0 34 0a17 17 0 1 0 -34 0z"/><path d="M868.5 1866.1a17 17 0 1 0 34 0a17 17 0 1 0 -34 0z"/><path d="M856.5 1856.1a17 17 0 1 0 34 0a17 17 0 1 0 -34 0z"/><path d="M844.5 1846.2a17 17 0 1 0 34 0a17 17 0 1 0 -34 0z"/><path d="M832.5 1836.3a17 17 0 1 0 34 0a17 17 0 1 0 -34 0z"/><path d="M820.5 1826.5a17 17 0 1 0 34 0a17 17 0 1 0 -34 0z"/><path d="M808.5 1816.7a17 17 0 1 0 34 0a17 17 0 1 0 -34 0z"/><path d="M796.5 1806.9a17 17 0 1 0 34 0a17 17 0 1 0 -34 0z"/><path d="M784.5 1797.3a17 17 0 1 0 34 0a17 17 0 1 0 -34 0z"/><path d="M772.5 1787.7a17 17 0 1 0 34 0a17 17 0 1 0 -34 0z"/><path d="M760.5 1778.1a17 17 0 1 0 34 0a17 17 0 1 0 -34 0z"/><path d="M748.5 1768.5a17 17 0 1 0 34 0a17 17 0 1 0 -34 0z"/><path d="M736.5 1758.8a17 17 0 1 0 34 0a17 17 0 1 0 -34 0z"/><path d="M724.5 1749.2a17 17 0 1 0 34 0a17 17 0 1 0 -34 0z"/><path d="M712.5 1739.5a17 17 0 1 0 34 0a17 17 0 1 0 -34 0z"/><path d="M700.5 1729.9a17 17 0 1 0 34 0a17 17 0 1 0 -34 0z"/><path d="M688.5 1720.2a17 17 0 1 0 34 0a17 17 0 1 0 -34 0z"/><path d="M676.5 1710.4a17 17 0 1 0 34 0a17 17 0 1 0 -34 0z"/><path d="M664.5 1700.5a17 17 0 1 0 34 0a17 17 0 1 0 -34 0z"/><path d="M652.4 1690.4a17 17 0 1 0 34 0a17 17 0 1 0 -34 0z"/><path d="M640.4 1680.1a17 17 0 1 0 34 0a17 17 0 1 0 -34 0z"/><path d="M628.4 1669.3a17 17 0 1 0 34 0a17 17 0 1 0 -34 0z"/><path d="M616.4 1658.1a17 17 0 1 0 34 0a17 17 0 1 0 -34 0z"/><path d="M604.4 1647.0a17 17 0 1 0 34 0a17 17 0 1 0 -34 0z"/><path d="M592.4 1636.8a17 17 0 1 0 34 0a17 17 0 1 0 -34 0z"/><path d="M580.4 1627.4a17 17 0 1 0 34 0a17 17 0 1 0 -34 0z"/><path d="M568.4 1618.5a17 17 0 1 0 34 0a17 17 0 1 0 -34 0z"/><path d="M556.4 1610.0a17 17 0 1 0 34 0a17 17 0 1 0 -34 0z"/><path d="M544.4 1601.8a17 17 0 1 0 34 0a17 17 0 1 0 -34 0z"/><path d="M532.4 1593.8a17 17 0 1 0 34 0a17 17 0 1 0 -34 0z"/><path d="M520.4 1586.2a17 17 0 1 0 34 0a17 17 0 1 0 -34 0z"/><path d="M508.4 1578.8a17 17 0 1 0 34 0a17 17 0 1 0 -34 0z"/><path d="M496.4 1571.7a17 17 0 1 0 34 0a17 17 0 1 0 -34 0z"/><path d="M484.4 1564.8a17 17 0 1 0 34 0a17 17 0 1 0 -34 0z"/><path d="M472.4 1558.0a17 17 0 1 0 34 0a17 17 0 1 0 -34 0z"/><path d="M460.4 1551.3a17 17 0 1 0 34 0a17 17 0 1 0 -34 0z"/><path d="M448.4 1544.7a17 17 0 1 0 34 0a17 17 0 1 0 -34 0z"/><path d="M436.4 1538.1a17 17 0 1 0 34 0a17 17 0 1 0 -34 0z"/><path d="M424.4 1531.4a17 17 0 1 0 34 0a17 17 0 1 0 -34 0z"/><path d="M412.4 1524.7a17 17 0 1 0 34 0a17 17 0 1 0 -34 0z"/><path d="M400.4 1517.9a17 17 0 1 0 34 0a17 17 0 1 0 -34 0z"/><path d="M388.4 1510.8a17 17 0 1 0 34 0a17 17 0 1 0 -34 0z"/><path d="M376.4 1503.6a17 17 0 1 0 34 0a17 17 0 1 0 -34 0z"/><path d="M364.4 1496.1a17 17 0 1 0 34 0a17 17 0 1 0 -34 0z"/><path d="M352.4 1488.3a17 17 0 1 0 34 0a17 17 0 1 0 -34 0z"/><path d="M340.4 1480.2a17 17 0 1 0 34 0a17 17 0 1 0 -34 0z"/><path d="M328.4 1471.6a17 17 0 1 0 34 0a17 17 0 1 0 -34 0z"/><path d="M316.4 1462.7a17 17 0 1 0 34 0a17 17 0 1 0 -34 0z"/><path d="M304.4 1452.0a17 17 0 1 0 34 0a17 17 0 1 0 -34 0z"/></g>
<g fill="#fff" stroke="#008000" stroke-width="10" stroke-linejoin="round"><path d="M1041.5 1971.9L1063.0 2009.5L1020.0 2009.5z"/><path d="M1029.5 1963.5L1051.0 2001.1L1008.0 2001.1z"/><path d="M1017.5 1954.0L1039.0 1991.6L996.0 1991.6z"/><path d="M1005.5 1944.0L1027.0 1981.6L984.0 1981.6z"/><path d="M993.5 1934.0L1015.0 1971.6L972.0 1971.6z"/><path d="M981.5 1923.9L1003.0 1961.5L960.0 1961.5z"/><path d="M969.5 1913.7L991.0 1951.3L948.0 1951.3z"/><path d="M957.5 1903.5L979.0 1941.1L936.0 1941.1z"/><path d="M945.5 1893.2L967.0 1930.8L924.0 1930.8z"/><path d="M933.5 1882.9L955.0 1920.5L912.0 1920.5z"/><path d="M921.5 1872.6L943.0 1910.2L900.0 1910.2z"/><path d="M909.5 1862.2L931.0 1899.8L888.0 1899.8z"/><path d="M897.5 1851.8L919.0 1889.4L876.0 1889.4z"/><path d="M885.5 1841.4L907.0 1879.0L864.0 1879.0z"/><path d="M873.5 1831.0L895.0 1868.6L852.0 1868.6z"/><path d="M861.5 1820.5L883.0 1858.1L840.0 1858.1z"/><path d="M849.5 1810.0L871.0 1847.6L828.0 1847.6z"/><path d="M837.5 1799.3L859.0 1836.9L816.0 1836.9z"/><path d="M825.5 1789.0L847.0 1826.6L804.0 1826.6z"/><path d="M813.5 1779.1L835.0 1816.7L792.0 1816.7z"/><path d="M801.5 1769.4L823.0 1807.0L780.0 1807.0z"/><path d="M789.5 1759.8L811.0 1797.4L768.0 1797.4z"/><path d="M777.5 1750.5L799.0 1788.1L756.0 1788.1z"/><path d="M765.5 1741.3L787.0 1778.9L744.0 1778.9z"/><path d="M753.5 1732.2L775.0 1769.8L732.0 1769.8z"/><path d="M741.5 1723.2L763.0 1760.8L720.0 1760.8z"/><path d="M729.5 1714.3L751.0 1751.9L708.0 1751.9z"/><path d="M717.5 1705.5L739.0 1743.1L696.0 1743.1z"/><path d="M705.5 1696.8L727.0 1734.4L684.0 1734.4z"/><path d="M693.5 1688.3L715.0 1725.9L672.0 1725.9z"/><path d="M681.5 1680.0L703.0 1717.6L660.0 1717.6z"/><path d="M669.4 1671.9L690.9 1709.5L647.9 1709.5z"/><path d="M657.4 1664.2L678.9 1701.8L635.9 1701.8z"/><path d="M645.4 1656.6L666.9 1694.2L623.9 1694.2z"/><path d="M633.4 1649.2L654.9 1686.8L611.9 1686.8z"/><path d="M621.4 1642.0L642.9 1679.6L599.9 1679.6z"/><path d="M609.4 1635.0L630.9 1672.6L587.9 1672.6z"/><path d="M597.4 1628.2L618.9 1665.8L575.9 1665.8z"/><path d="M585.4 1621.8L606.9 1659.4L563.9 1659.4z"/><path d="M573.4 1615.7L594.9 1653.3L551.9 1653.3z"/><path d="M561.4 1610.0L582.9 1647.6L539.9 1647.6z"/><path d="M549.4 1604.7L570.9 1642.3L527.9 1642.3z"/><path d="M537.4 1599.5L558.9 1637.1L515.9 1637.1z"/><path d="M525.4 1594.6L546.9 1632.2L503.9 1632.2z"/><path d="M513.4 1589.9L534.9 1627.5L491.9 1627.5z"/><path d="M501.4 1585.4L522.9 1623.0L479.9 1623.0z"/><path d="M489.4 1580.9L510.9 1618.5L467.9 1618.5z"/><path d="M477.4 1576.5L498.9 1614.1L455.9 1614.1z"/><path d="M465.4 1572.1L486.9 1609.7L443.9 1609.7z"/><path d="M453.4 1567.8L474.9 1605.4L431.9 1605.4z"/><path d="M441.4 1563.3L462.9 1600.9L419.9 1600.9z"/><path d="M429.4 1558.8L450.9 1596.4L407.9 1596.4z"/><path d="M417.4 1554.2L438.9 1591.8L395.9 1591.8z"/><path d="M405.4 1549.4L426.9 1587.0L383.9 1587.0z"/><path d="M393.4 1544.4L414.9 1582.0L371.9 1582.0z"/><path d="M381.4 1539.1L402.9 1576.7L359.9 1576.7z"/><path d="M369.4 1533.6L390.9 1571.2L347.9 1571.2z"/><path d="M357.4 1527.2L378.9 1564.8L335.9 1564.8z"/></g>
</g>
<rect x="316.41" y="1373.90" width="10.00" height="2.70"/><rect x="316.41" y="2344.20" width="10.00" height="2.70"/><rect x="436.43" y="1373.90" width="10.00" height="2.70"/><rect x="436.43" y="2344.20" width="10.00" height="2.70"/><rect x="556.44" y="1373.90" width="10.00" height="2.70"/><rect x="556.44" y="2344.20" width="10.00" height="2.70"/><rect x="676.45" y="1373.90" width="10.00" height="2.70"/><rect x="676.45" y="2344.20" width="10.00" height="2.70"/><rect x="796.46" y="1373.90" width="10.00" height="2.70"/><rect x="796.46" y="2344.20" width="10.00" height="2.70"/><rect x="916.48" y="1373.90" width="10.00" height="2.70"/><rect x="916.48" y="2344.20" width="10.00" height="2.70"/><rect x="1036.49" y="1373.90" width="10.00" height="2.70"/><rect x="1036.49" y="2344.20" width="10.00" height="2.70"/><rect x="205.90" y="2237.11" width="2.70" height="10.00"/><rect x="1154.30" y="2237.11" width="2.70" height="10.00"/><rect x="205.90" y="2128.02" width="2.70" height="10.00"/><rect x="1154.30" y="2128.02" width="2.70" height="10.00"/><rect x="205.90" y="2018.93" width="2.70" height="10.00"/><rect x="1154.30" y="2018.93" width="2.70" height="10.00"/><rect x="205.90" y="1909.84" width="2.70" height="10.00"/><rect x="1154.30" y="1909.84" width="2.70" height="10.00"/><rect x="205.90" y="1800.76" width="2.70" height="10.00"/><rect x="1154.30" y="1800.76" width="2.70" height="10.00"/><rect x="205.90" y="1691.67" width="2.70" height="10.00"/><rect x="1154.30" y="1691.67" width="2.70" height="10.00"/><rect x="205.90" y="1582.58" width="2.70" height="10.00"/><rect x="1154.30" y="1582.58" width="2.70" height="10.00"/><rect x="205.90" y="1473.49" width="2.70" height="10.00"/><rect x="1154.30" y="1473.49" width="2.70" height="10.00"/><rect x="195.80" y="1364.00" width="971.20" height="10.90"/><rect x="195.80" y="2345.90" width="971.20" height="10.80"/><rect x="195.80" y="1364.00" width="11.10" height="992.70"/><rect x="1156.00" y="1364.00" width="11.00" height="992.70"/>
<text transform="translate(0 2410.6) scale(1 1.05)" font-size="55.5"><tspan x="158.1" y="0">10</tspan><tspan x="213.6" y="-21.3" font-size="38.5">-2</tspan></text><text transform="translate(0 2410.6) scale(1 1.05)" font-size="55.5"><tspan x="278.1" y="0">10</tspan><tspan x="333.6" y="-21.3" font-size="38.5">-1</tspan></text><text transform="translate(0 2410.6) scale(1 1.05)" font-size="55.5"><tspan x="404.6" y="0">10</tspan><tspan x="460.1" y="-21.3" font-size="38.5">0</tspan></text><text transform="translate(0 2410.6) scale(1 1.05)" font-size="55.5"><tspan x="524.6" y="0">10</tspan><tspan x="580.1" y="-21.3" font-size="38.5">1</tspan></text><text transform="translate(0 2410.6) scale(1 1.05)" font-size="55.5"><tspan x="644.6" y="0">10</tspan><tspan x="700.1" y="-21.3" font-size="38.5">2</tspan></text><text transform="translate(0 2410.6) scale(1 1.05)" font-size="55.5"><tspan x="764.6" y="0">10</tspan><tspan x="820.1" y="-21.3" font-size="38.5">3</tspan></text><text transform="translate(0 2410.6) scale(1 1.05)" font-size="55.5"><tspan x="884.6" y="0">10</tspan><tspan x="940.1" y="-21.3" font-size="38.5">4</tspan></text><text transform="translate(0 2410.6) scale(1 1.05)" font-size="55.5"><tspan x="1004.6" y="0">10</tspan><tspan x="1060.1" y="-21.3" font-size="38.5">5</tspan></text><text transform="translate(0 2410.6) scale(1 1.05)" font-size="55.5"><tspan x="1124.6" y="0">10</tspan><tspan x="1180.1" y="-21.3" font-size="38.5">6</tspan></text><text transform="translate(0 2371.7) scale(1 1.05)" font-size="55.5"><tspan x="117.7" y="0">10</tspan><tspan x="173.2" y="-21.3" font-size="38.5">0</tspan></text><text transform="translate(0 2262.6) scale(1 1.05)" font-size="55.5"><tspan x="117.7" y="0">10</tspan><tspan x="173.2" y="-21.3" font-size="38.5">1</tspan></text><text transform="translate(0 2153.5) scale(1 1.05)" font-size="55.5"><tspan x="117.7" y="0">10</tspan><tspan x="173.2" y="-21.3" font-size="38.5">2</tspan></text><text transform="translate(0 2044.4) scale(1 1.05)" font-size="55.5"><tspan x="117.7" y="0">10</tspan><tspan x="173.2" y="-21.3" font-size="38.5">3</tspan></text><text transform="translate(0 1935.3) scale(1 1.05)" font-size="55.5"><tspan x="117.7" y="0">10</tspan><tspan x="173.2" y="-21.3" font-size="38.5">4</tspan></text><text transform="translate(0 1826.3) scale(1 1.05)" font-size="55.5"><tspan x="117.7" y="0">10</tspan><tspan x="173.2" y="-21.3" font-size="38.5">5</tspan></text><text transform="translate(0 1717.2) scale(1 1.05)" font-size="55.5"><tspan x="117.7" y="0">10</tspan><tspan x="173.2" y="-21.3" font-size="38.5">6</tspan></text><text transform="translate(0 1608.1) scale(1 1.05)" font-size="55.5"><tspan x="117.7" y="0">10</tspan><tspan x="173.2" y="-21.3" font-size="38.5">7</tspan></text><text transform="translate(0 1499.0) scale(1 1.05)" font-size="55.5"><tspan x="117.7" y="0">10</tspan><tspan x="173.2" y="-21.3" font-size="38.5">8</tspan></text><text transform="translate(0 1389.9) scale(1 1.05)" font-size="55.5"><tspan x="117.7" y="0">10</tspan><tspan x="173.2" y="-21.3" font-size="38.5">9</tspan></text>
<g clip-path="url(#cPe)">
<g fill="#fff" stroke="#000080" stroke-width="10" stroke-linejoin="miter"><path d="M2203.5 2306.9h30v30h-30z"/><path d="M2191.5 2306.9h30v30h-30z"/><path d="M2179.5 2306.9h30v30h-30z"/><path d="M2167.5 2306.9h30v30h-30z"/><path d="M2155.5 2305.3h30v30h-30z"/><path d="M2143.5 2305.3h30v30h-30z"/><path d="M2131.5 2305.3h30v30h-30z"/><path d="M2119.5 2305.3h30v30h-30z"/><path d="M2107.5 2299.0h30v30h-30z"/><path d="M2095.5 2299.0h30v30h-30z"/><path d="M2083.5 2299.0h30v30h-30z"/><path d="M2071.5 2299.0h30v30h-30z"/><path d="M2059.5 2299.0h30v30h-30z"/><path d="M2047.5 2298.2h30v30h-30z"/><path d="M2035.5 2298.2h30v30h-30z"/><path d="M2023.5 2297.4h30v30h-30z"/><path d="M2011.5 2297.4h30v30h-30z"/><path d="M1999.5 2295.0h30v30h-30z"/><path d="M1987.5 2287.5h30v30h-30z"/><path d="M1975.5 2287.5h30v30h-30z"/><path d="M1963.5 2287.5h30v30h-30z"/><path d="M1951.5 2286.6h30v30h-30z"/><path d="M1939.5 2286.0h30v30h-30z"/><path d="M1927.5 2283.3h30v30h-30z"/><path d="M1915.5 2283.3h30v30h-30z"/><path d="M1903.5 2281.1h30v30h-30z"/><path d="M1891.5 2279.5h30v30h-30z"/><path d="M1879.5 2279.5h30v30h-30z"/><path d="M1867.5 2273.1h30v30h-30z"/><path d="M1855.5 2273.1h30v30h-30z"/><path d="M1843.5 2271.7h30v30h-30z"/><path d="M1831.4 2271.7h30v30h-30z"/><path d="M1819.4 2269.3h30v30h-30z"/><path d="M1807.4 2269.3h30v30h-30z"/><path d="M1795.4 2266.8h30v30h-30z"/><path d="M1783.4 2266.8h30v30h-30z"/><path d="M1771.4 2264.2h30v30h-30z"/><path d="M1759.4 2260.6h30v30h-30z"/><path d="M1747.4 2253.9h30v30h-30z"/><path d="M1735.4 2251.4h30v30h-30z"/><path d="M1723.4 2249.9h30v30h-30z"/><path d="M1711.4 2247.4h30v30h-30z"/><path d="M1699.4 2244.0h30v30h-30z"/><path d="M1687.4 2241.5h30v30h-30z"/><path d="M1675.4 2238.2h30v30h-30z"/><path d="M1663.4 2235.0h30v30h-30z"/><path d="M1651.4 2232.6h30v30h-30z"/><path d="M1639.4 2229.3h30v30h-30z"/><path d="M1627.4 2225.5h30v30h-30z"/><path d="M1615.4 2223.5h30v30h-30z"/><path d="M1603.4 2219.4h30v30h-30z"/><path d="M1591.4 2216.1h30v30h-30z"/><path d="M1579.4 2211.8h30v30h-30z"/><path d="M1567.4 2209.4h30v30h-30z"/><path d="M1555.4 2206.4h30v30h-30z"/><path d="M1543.4 2206.2h30v30h-30z"/><path d="M1531.4 2197.1h30v30h-30z"/><path d="M1519.4 2195.5h30v30h-30z"/><path d="M1507.4 2187.9h30v30h-30z"/><path d="M1495.4 2185.2h30v30h-30z"/><path d="M1483.4 2184.0h30v30h-30z"/></g>
<g fill="#fff" stroke="#990000" stroke-width="10" stroke-linejoin="round"><path d="M2201.5 2307.6a17 17 0 1 0 34 0a17 17 0 1 0 -34 0z"/><path d="M2189.5 2306.4a17 17 0 1 0 34 0a17 17 0 1 0 -34 0z"/><path d="M2177.5 2305.1a17 17 0 1 0 34 0a17 17 0 1 0 -34 0z"/><path d="M2165.5 2303.8a17 17 0 1 0 34 0a17 17 0 1 0 -34 0z"/><path d="M2153.5 2302.4a17 17 0 1 0 34 0a17 17 0 1 0 -34 0z"/><path d="M2141.5 2300.7a17 17 0 1 0 34 0a17 17 0 1 0 -34 0z"/><path d="M2129.5 2298.8a17 17 0 1 0 34 0a17 17 0 1 0 -34 0z"/><path d="M2117.5 2296.4a17 17 0 1 0 34 0a17 17 0 1 0 -34 0z"/><path d="M2105.5 2292.6a17 17 0 1 0 34 0a17 17 0 1 0 -34 0z"/><path d="M2093.5 2287.5a17 17 0 1 0 34 0a17 17 0 1 0 -34 0z"/><path d="M2081.5 2282.5a17 17 0 1 0 34 0a17 17 0 1 0 -34 0z"/><path d="M2069.5 2279.3a17 17 0 1 0 34 0a17 17 0 1 0 -34 0z"/><path d="M2057.5 2276.6a17 17 0 1 0 34 0a17 17 0 1 0 -34 0z"/><path d="M2045.5 2272.8a17 17 0 1 0 34 0a17 17 0 1 0 -34 0z"/><path d="M2033.5 2266.8a17 17 0 1 0 34 0a17 17 0 1 0 -34 0z"/><path d="M2021.5 2259.6a17 17 0 1 0 34 0a17 17 0 1 0 -34 0z"/><path d="M2009.5 2250.2a17 17 0 1 0 34 0a17 17 0 1 0 -34 0z"/><path d="M1997.5 2240.5a17 17 0 1 0 34 0a17 17 0 1 0 -34 0z"/><path d="M1985.5 2234.9a17 17 0 1 0 34 0a17 17 0 1 0 -34 0z"/><path d="M1973.5 2231.0a17 17 0 1 0 34 0a17 17 0 1 0 -34 0z"/><path d="M1961.5 2227.9a17 17 0 1 0 34 0a17 17 0 1 0 -34 0z"/><path d="M1949.5 2226.1a17 17 0 1 0 34 0a17 17 0 1 0 -34 0z"/><path d="M1937.5 2225.8a17 17 0 1 0 34 0a17 17 0 1 0 -34 0z"/><path d="M1925.5 2226.1a17 17 0 1 0 34 0a17 17 0 1 0 -34 0z"/><path d="M1913.5 2226.5a17 17 0 1 0 34 0a17 17 0 1 0 -34 0z"/><path d="M1901.5 2226.8a17 17 0 1 0 34 0a17 17 0 1 0 -34 0z"/><path d="M1889.5 2226.6a17 17 0 1 0 34 0a17 17 0 1 0 -34 0z"/><path d="M1877.5 2225.8a17 17 0 1 0 34 0a17 17 0 1 0 -34 0z"/><path d="M1865.5 2224.7a17 17 0 1 0 34 0a17 17 0 1 0 -34 0z"/><path d="M1853.5 2223.4a17 17 0 1 0 34 0a17 17 0 1 0 -34 0z"/><path d="M1841.5 2221.9a17 17 0 1 0 34 0a17 17 0 1 0 -34 0z"/><path d="M1829.4 2219.8a17 17 0 1 0 34 0a17 17 0 1 0 -34 0z"/><path d="M1817.4 2216.6a17 17 0 1 0 34 0a17 17 0 1 0 -34 0z"/><path d="M1805.4 2212.6a17 17 0 1 0 34 0a17 17 0 1 0 -34 0z"/><path d="M1793.4 2208.4a17 17 0 1 0 34 0a17 17 0 1 0 -34 0z"/><path d="M1781.4 2203.9a17 17 0 1 0 34 0a17 17 0 1 0 -34 0z"/><path d="M1769.4 2198.9a17 17 0 1 0 34 0a17 17 0 1 0 -34 0z"/><path d="M1757.4 2193.5a17 17 0 1 0 34 0a17 17 0 1 0 -34 0z"/><path d="M1745.4 2187.4a17 17 0 1 0 34 0a17 17 0 1 0 -34 0z"/><path d="M1733.4 2181.0a17 17 0 1 0 34 0a17 17 0 1 0 -34 0z"/><path d="M1721.4 2174.5a17 17 0 1 0 34 0a17 17 0 1 0 -34 0z"/><path d="M1709.4 2170.1a17 17 0 1 0 34 0a17 17 0 1 0 -34 0z"/><path d="M1697.4 2164.7a17 17 0 1 0 34 0a17 17 0 1 0 -34 0z"/><path d="M1685.4 2153.7a17 17 0 1 0 34 0a17 17 0 1 0 -34 0z"/><path d="M1673.4 2146.1a17 17 0 1 0 34 0a17 17 0 1 0 -34 0z"/><path d="M1661.4 2136.3a17 17 0 1 0 34 0a17 17 0 1 0 -34 0z"/><path d="M1649.4 2127.6a17 17 0 1 0 34 0a17 17 0 1 0 -34 0z"/><path d="M1637.4 2117.7a17 17 0 1 0 34 0a17 17 0 1 0 -34 0z"/><path d="M1625.4 2106.8a17 17 0 1 0 34 0a17 17 0 1 0 -34 0z"/><path d="M1613.4 2095.9a17 17 0 1 0 34 0a17 17 0 1 0 -34 0z"/><path d="M1601.4 2085.0a17 17 0 1 0 34 0a17 17 0 1 0 -34 0z"/><path d="M1589.4 2073.0a17 17 0 1 0 34 0a17 17 0 1 0 -34 0z"/><path d="M1577.4 2058.8a17 17 0 1 0 34 0a17 17 0 1 0 -34 0z"/><path d="M1565.4 2044.7a17 17 0 1 0 34 0a17 17 0 1 0 -34 0z"/><path d="M1553.4 2030.5a17 17 0 1 0 34 0a17 17 0 1 0 -34 0z"/><path d="M1541.4 2017.4a17 17 0 1 0 34 0a17 17 0 1 0 -34 0z"/><path d="M1529.4 2002.1a17 17 0 1 0 34 0a17 17 0 1 0 -34 0z"/><path d="M1517.4 1987.9a17 17 0 1 0 34 0a17 17 0 1 0 -34 0z"/><path d="M1505.4 1971.6a17 17 0 1 0 34 0a17 17 0 1 0 -34 0z"/><path d="M1493.4 1957.4a17 17 0 1 0 34 0a17 17 0 1 0 -34 0z"/><path d="M1481.4 1942.1a17 17 0 1 0 34 0a17 17 0 1 0 -34 0z"/></g>
<g fill="#fff" stroke="#008000" stroke-width="10" stroke-linejoin="round"><path d="M2218.5 2278.4L2240.0 2316.0L2197.0 2316.0z"/><path d="M2206.5 2278.1L2228.0 2315.7L2185.0 2315.7z"/><path d="M2194.5 2277.3L2216.0 2314.9L2173.0 2314.9z"/><path d="M2182.5 2275.6L2204.0 2313.2L2161.0 2313.2z"/><path d="M2170.5 2273.0L2192.0 2310.6L2149.0 2310.6z"/><path d="M2158.5 2270.0L2180.0 2307.6L2137.0 2307.6z"/><path d="M2146.5 2266.4L2168.0 2304.0L2125.0 2304.0z"/><path d="M2134.5 2261.8L2156.0 2299.4L2113.0 2299.4z"/><path d="M2122.5 2257.7L2144.0 2295.3L2101.0 2295.3z"/><path d="M2110.5 2255.2L2132.0 2292.8L2089.0 2292.8z"/><path d="M2098.5 2253.3L2120.0 2290.9L2077.0 2290.9z"/><path d="M2086.5 2251.7L2108.0 2289.3L2065.0 2289.3z"/><path d="M2074.5 2250.0L2096.0 2287.6L2053.0 2287.6z"/><path d="M2062.5 2247.7L2084.0 2285.3L2041.0 2285.3z"/><path d="M2050.5 2244.6L2072.0 2282.2L2029.0 2282.2z"/><path d="M2038.5 2239.8L2060.0 2277.4L2017.0 2277.4z"/><path d="M2026.5 2233.7L2048.0 2271.3L2005.0 2271.3z"/><path d="M2014.5 2226.0L2036.0 2263.6L1993.0 2263.6z"/><path d="M2002.5 2216.2L2024.0 2253.8L1981.0 2253.8z"/><path d="M1990.5 2208.6L2012.0 2246.2L1969.0 2246.2z"/><path d="M1978.5 2201.9L2000.0 2239.5L1957.0 2239.5z"/><path d="M1966.5 2194.4L1988.0 2232.0L1945.0 2232.0z"/><path d="M1954.5 2183.5L1976.0 2221.1L1933.0 2221.1z"/><path d="M1942.5 2171.5L1964.0 2209.1L1921.0 2209.1z"/><path d="M1930.5 2159.5L1952.0 2197.1L1909.0 2197.1z"/><path d="M1918.5 2145.3L1940.0 2182.9L1897.0 2182.9z"/><path d="M1906.5 2132.2L1928.0 2169.8L1885.0 2169.8z"/><path d="M1894.5 2115.9L1916.0 2153.5L1873.0 2153.5z"/><path d="M1882.5 2093.0L1904.0 2130.6L1861.0 2130.6z"/><path d="M1870.5 2074.4L1892.0 2112.0L1849.0 2112.0z"/><path d="M1858.5 2057.0L1880.0 2094.6L1837.0 2094.6z"/><path d="M1846.4 2037.3L1867.9 2074.9L1824.9 2074.9z"/><path d="M1834.4 2017.7L1855.9 2055.3L1812.9 2055.3z"/><path d="M1822.4 1994.8L1843.9 2032.4L1800.9 2032.4z"/><path d="M1810.4 1973.0L1831.9 2010.6L1788.9 2010.6z"/><path d="M1798.4 1952.2L1819.9 1989.8L1776.9 1989.8z"/><path d="M1786.4 1928.2L1807.9 1965.8L1764.9 1965.8z"/><path d="M1774.4 1904.2L1795.9 1941.8L1752.9 1941.8z"/><path d="M1762.4 1878.1L1783.9 1915.7L1740.9 1915.7z"/><path d="M1750.4 1855.1L1771.9 1892.7L1728.9 1892.7z"/><path d="M1738.4 1835.5L1759.9 1873.1L1716.9 1873.1z"/><path d="M1726.4 1814.8L1747.9 1852.4L1704.9 1852.4z"/><path d="M1714.4 1794.1L1735.9 1831.7L1692.9 1831.7z"/><path d="M1702.4 1772.2L1723.9 1809.8L1680.9 1809.8z"/><path d="M1690.4 1750.4L1711.9 1788.0L1668.9 1788.0z"/><path d="M1678.4 1734.1L1699.9 1771.7L1656.9 1771.7z"/><path d="M1666.4 1717.7L1687.9 1755.3L1644.9 1755.3z"/><path d="M1654.4 1705.7L1675.9 1743.3L1632.9 1743.3z"/><path d="M1642.4 1698.1L1663.9 1735.7L1620.9 1735.7z"/><path d="M1630.4 1690.4L1651.9 1728.0L1608.9 1728.0z"/><path d="M1618.4 1686.1L1639.9 1723.7L1596.9 1723.7z"/><path d="M1606.4 1681.7L1627.9 1719.3L1584.9 1719.3z"/><path d="M1594.4 1678.4L1615.9 1716.0L1572.9 1716.0z"/><path d="M1582.4 1676.2L1603.9 1713.8L1560.9 1713.8z"/><path d="M1570.4 1673.0L1591.9 1710.6L1548.9 1710.6z"/><path d="M1558.4 1669.7L1579.9 1707.3L1536.9 1707.3z"/><path d="M1546.4 1667.5L1567.9 1705.1L1524.9 1705.1z"/><path d="M1534.4 1659.9L1555.9 1697.5L1512.9 1697.5z"/></g>
</g>
<rect x="1493.41" y="1373.90" width="10.00" height="2.70"/><rect x="1493.41" y="2344.20" width="10.00" height="2.70"/><rect x="1613.43" y="1373.90" width="10.00" height="2.70"/><rect x="1613.43" y="2344.20" width="10.00" height="2.70"/><rect x="1733.44" y="1373.90" width="10.00" height="2.70"/><rect x="1733.44" y="2344.20" width="10.00" height="2.70"/><rect x="1853.45" y="1373.90" width="10.00" height="2.70"/><rect x="1853.45" y="2344.20" width="10.00" height="2.70"/><rect x="1973.46" y="1373.90" width="10.00" height="2.70"/><rect x="1973.46" y="2344.20" width="10.00" height="2.70"/><rect x="2093.47" y="1373.90" width="10.00" height="2.70"/><rect x="2093.47" y="2344.20" width="10.00" height="2.70"/><rect x="2213.49" y="1373.90" width="10.00" height="2.70"/><rect x="2213.49" y="2344.20" width="10.00" height="2.70"/><rect x="1383.00" y="1473.49" width="2.70" height="10.00"/><rect x="2331.30" y="1473.49" width="2.70" height="10.00"/><rect x="1383.00" y="1582.58" width="2.70" height="10.00"/><rect x="2331.30" y="1582.58" width="2.70" height="10.00"/><rect x="1383.00" y="1691.67" width="2.70" height="10.00"/><rect x="2331.30" y="1691.67" width="2.70" height="10.00"/><rect x="1383.00" y="1800.76" width="2.70" height="10.00"/><rect x="2331.30" y="1800.76" width="2.70" height="10.00"/><rect x="1383.00" y="1909.84" width="2.70" height="10.00"/><rect x="2331.30" y="1909.84" width="2.70" height="10.00"/><rect x="1383.00" y="2018.93" width="2.70" height="10.00"/><rect x="2331.30" y="2018.93" width="2.70" height="10.00"/><rect x="1383.00" y="2128.02" width="2.70" height="10.00"/><rect x="2331.30" y="2128.02" width="2.70" height="10.00"/><rect x="1383.00" y="2237.11" width="2.70" height="10.00"/><rect x="2331.30" y="2237.11" width="2.70" height="10.00"/><rect x="1372.70" y="1364.00" width="971.30" height="10.90"/><rect x="1372.70" y="2345.90" width="971.30" height="10.80"/><rect x="1372.70" y="1364.00" width="11.30" height="992.70"/><rect x="2333.00" y="1364.00" width="11.00" height="992.70"/>
<text transform="translate(0 2410.6) scale(1 1.05)" font-size="55.5"><tspan x="1335.1" y="0">10</tspan><tspan x="1390.6" y="-21.3" font-size="38.5">-2</tspan></text><text transform="translate(0 2410.6) scale(1 1.05)" font-size="55.5"><tspan x="1455.1" y="0">10</tspan><tspan x="1510.6" y="-21.3" font-size="38.5">-1</tspan></text><text transform="translate(0 2410.6) scale(1 1.05)" font-size="55.5"><tspan x="1581.6" y="0">10</tspan><tspan x="1637.1" y="-21.3" font-size="38.5">0</tspan></text><text transform="translate(0 2410.6) scale(1 1.05)" font-size="55.5"><tspan x="1701.6" y="0">10</tspan><tspan x="1757.1" y="-21.3" font-size="38.5">1</tspan></text><text transform="translate(0 2410.6) scale(1 1.05)" font-size="55.5"><tspan x="1821.6" y="0">10</tspan><tspan x="1877.1" y="-21.3" font-size="38.5">2</tspan></text><text transform="translate(0 2410.6) scale(1 1.05)" font-size="55.5"><tspan x="1941.6" y="0">10</tspan><tspan x="1997.1" y="-21.3" font-size="38.5">3</tspan></text><text transform="translate(0 2410.6) scale(1 1.05)" font-size="55.5"><tspan x="2061.6" y="0">10</tspan><tspan x="2117.1" y="-21.3" font-size="38.5">4</tspan></text><text transform="translate(0 2410.6) scale(1 1.05)" font-size="55.5"><tspan x="2181.6" y="0">10</tspan><tspan x="2237.1" y="-21.3" font-size="38.5">5</tspan></text><text transform="translate(0 2410.6) scale(1 1.05)" font-size="55.5"><tspan x="2301.6" y="0">10</tspan><tspan x="2357.1" y="-21.3" font-size="38.5">6</tspan></text><text transform="translate(1341.9 1385.8) scale(1 1.024)" font-size="56.8">0</text><text transform="translate(1294.5 1494.9) scale(1 1.024)" font-size="56.8">-10</text><text transform="translate(1294.5 1604.0) scale(1 1.024)" font-size="56.8">-20</text><text transform="translate(1294.5 1713.1) scale(1 1.024)" font-size="56.8">-30</text><text transform="translate(1294.5 1822.2) scale(1 1.024)" font-size="56.8">-40</text><text transform="translate(1294.5 1931.2) scale(1 1.024)" font-size="56.8">-50</text><text transform="translate(1294.5 2040.3) scale(1 1.024)" font-size="56.8">-60</text><text transform="translate(1294.5 2149.4) scale(1 1.024)" font-size="56.8">-70</text><text transform="translate(1294.5 2258.5) scale(1 1.024)" font-size="56.8">-80</text><text transform="translate(1294.5 2367.6) scale(1 1.024)" font-size="56.8">-90</text>
<path d="M290.7 787.9h30v30h-30z" fill="#fff" stroke="#000080" stroke-width="10"/><path d="M288.7 885.0a17 17 0 1 0 34 0a17 17 0 1 0 -34 0z" fill="#fff" stroke="#990000" stroke-width="10"/><path d="M305.7 943.1L327.2 980.7L284.2 980.7z" fill="#fff" stroke="#008000" stroke-width="10" stroke-linejoin="round"/><text x="397.5" y="824.3" font-size="66.5">Coating system, t = 0 h</text><text x="397.5" y="906.0" font-size="66.5">Coating system, t = 2808 h</text><text x="397.5" y="988.2" font-size="66.5">Coating system, t = 6840 h</text>
<path d="M290.7 2100.1h30v30h-30z" fill="#fff" stroke="#000080" stroke-width="10"/><path d="M288.7 2197.2a17 17 0 1 0 34 0a17 17 0 1 0 -34 0z" fill="#fff" stroke="#990000" stroke-width="10"/><path d="M305.7 2255.3L327.2 2292.9L284.2 2292.9z" fill="#fff" stroke="#008000" stroke-width="10" stroke-linejoin="round"/><text x="397.5" y="2136.5" font-size="66.5">Coating system, t = 0 h</text><text x="397.5" y="2218.2" font-size="66.5">Coating system, t = 2808 h</text><text x="397.5" y="2300.4" font-size="66.5">Coating system, t = 6840 h</text>
<text x="434.6" y="1200.4" font-size="78.3">Frequency (Hz)</text><text x="1611.6" y="1200.4" font-size="78.3">Frequency (Hz)</text><text transform="translate(80.4,685.3) rotate(-90)" font-size="78.3"><tspan x="0" y="0">Z</tspan><tspan x="47.8" y="20.9" font-size="52">mod</tspan><tspan y="0" dx="3.5" font-size="78.3"> (Ω)</tspan></text><text transform="translate(1278.3,616.1) rotate(-90)" font-size="78.3"><tspan x="0" y="0">ϕ (</tspan><tspan y="-31.1" font-size="52">o</tspan><tspan y="0">)</tspan></text>
<text x="434.6" y="2512.6" font-size="78.3">Frequency (Hz)</text><text x="1611.6" y="2512.6" font-size="78.3">Frequency (Hz)</text><text transform="translate(80.4,1997.5) rotate(-90)" font-size="78.3"><tspan x="0" y="0">Z</tspan><tspan x="47.8" y="20.9" font-size="52">mod</tspan><tspan y="0" dx="3.5" font-size="78.3"> (Ω)</tspan></text><text transform="translate(1278.3,1928.3) rotate(-90)" font-size="78.3"><tspan x="0" y="0">ϕ (</tspan><tspan y="-31.1" font-size="52">o</tspan><tspan y="0">)</tspan></text>
<text transform="matrix(0.7982 0 0 0.8602 694.99 1308.59)" font-size="100">(</text><text transform="matrix(0.8981 0 0 0.8712 722.06 1307.25)" font-size="100" font-weight="bold">d</text><text transform="matrix(0.8021 0 0 0.8602 773.22 1308.59)" font-size="100">)</text><text transform="matrix(0.8348 0 0 0.8522 848.34 1307.70)" font-size="100" font-style="italic">T</text><text transform="matrix(1.0917 0 0 0.8840 926.76 1313.30)" font-size="100">=</text><text transform="matrix(0.8415 0 0 0.8968 1012.11 1307.92)" font-size="100">5</text><text transform="matrix(0.6221 0 0 0.6217 1058.75 1277.29)" font-size="100" font-style="italic">o</text><text transform="matrix(0.6961 0 0 0.8654 1098.63 1308.10)" font-size="100" font-style="italic">C</text><text transform="matrix(0.8058 0 0 0.8215 1147.93 1306.36)" font-size="100">,</text><text transform="matrix(0.8623 0 0 0.9424 1183.60 1310.39)" font-size="100">[</text><text transform="matrix(0.6945 0 0 0.8684 1213.03 1308.09)" font-size="100" font-style="italic">C</text><text transform="matrix(0.8834 0 0 0.8647 1265.30 1308.80)" font-size="100" font-style="italic">l</text><text transform="matrix(0.7113 0 0 0.9236 1294.16 1290.77)" font-size="100">−</text><text transform="matrix(0.8264 0 0 0.9424 1337.81 1310.39)" font-size="100">]</text><text transform="matrix(1.0960 0 0 0.8800 1391.44 1313.22)" font-size="100">=</text><text transform="matrix(0.8777 0 0 0.8633 1478.03 1307.96)" font-size="100">6</text><text transform="matrix(0.8124 0 0 0.8632 1521.24 1306.58)" font-size="100">.</text><text transform="matrix(0.9175 0 0 0.8634 1539.64 1307.80)" font-size="100">1</text><text transform="matrix(0.7556 0 0 0.8537 1607.89 1307.80)" font-size="100" font-style="italic">M</text>
<text transform="matrix(0.7515 0 0 0.8602 677.00 2621.39)" font-size="100">(</text><text transform="matrix(0.9120 0 0 0.8572 703.78 2621.50)" font-size="100" font-weight="bold">e</text><text transform="matrix(0.7748 0 0 0.8602 745.50 2621.39)" font-size="100">)</text><text transform="matrix(0.8257 0 0 0.8491 821.70 2620.70)" font-size="100" font-style="italic">T</text><text transform="matrix(1.1261 0 0 0.8840 897.59 2626.10)" font-size="100">=</text><text transform="matrix(0.8664 0 0 0.8968 984.07 2620.72)" font-size="100">5</text><text transform="matrix(0.5949 0 0 0.6217 1033.93 2590.09)" font-size="100" font-style="italic">o</text><text transform="matrix(0.7042 0 0 0.8654 1069.58 2620.90)" font-size="100" font-style="italic">C</text><text transform="matrix(0.8729 0 0 0.8215 1119.68 2619.16)" font-size="100">,</text><text transform="matrix(0.8309 0 0 0.9424 1155.93 2623.19)" font-size="100">[</text><text transform="matrix(0.7058 0 0 0.8684 1183.87 2620.89)" font-size="100" font-style="italic">C</text><text transform="matrix(0.8932 0 0 0.8647 1237.45 2621.60)" font-size="100" font-style="italic">l</text><text transform="matrix(0.7135 0 0 0.9236 1265.85 2603.57)" font-size="100">−</text><text transform="matrix(0.8129 0 0 0.9424 1310.26 2623.19)" font-size="100">]</text><text transform="matrix(1.0852 0 0 0.8800 1364.59 2626.02)" font-size="100">=</text><text transform="matrix(0.8565 0 0 0.8714 1450.44 2620.75)" font-size="100">0</text><text transform="matrix(0.7701 0 0 0.8632 1493.92 2619.38)" font-size="100">.</text><text transform="matrix(0.8541 0 0 0.8714 1513.95 2620.75)" font-size="100">0</text><text transform="matrix(0.8607 0 0 0.8634 1559.44 2620.60)" font-size="100">1</text><text transform="matrix(0.7119 0 0 0.8537 1626.83 2620.60)" font-size="100" font-style="italic">M</text>
</svg>
</body></html>
